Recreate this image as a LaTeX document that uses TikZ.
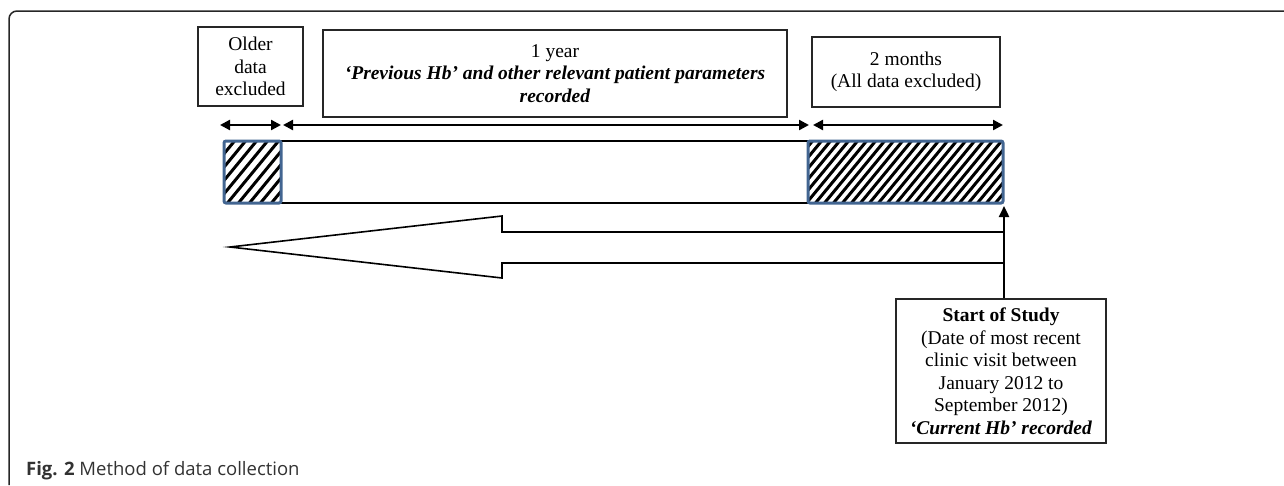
\documentclass[tikz,border=0pt]{standalone}
\usepackage{fontspec}
\setmainfont{Liberation Serif}
\newfontfamily\capfont{Open Sans}
\usetikzlibrary{arrows.meta}
\definecolor{hblue}{RGB}{66,101,145}
\definecolor{capgray}{RGB}{50,50,50}
\tikzset{
  txtbox/.style={draw=black!85, line width=1.3pt, align=center, inner sep=0pt,
    font=\fontsize{19.5}{22.5}\selectfont},
  span/.style={{Triangle[length=10pt,width=10pt]}-{Triangle[length=10pt,width=10pt]}, line width=2.3pt},
  hatchline/.style={line width=3pt, black},
  hframe/.style={draw=hblue, line width=3pt, rounded corners=2pt},
  bigarrow/.style={line width=1.6pt, black, line join=miter},
  uparrow/.style={-{Triangle[length=11pt,width=10pt]}, line width=2.3pt}
}
\begin{document}
\begin{tikzpicture}[x=1pt,y=-1pt]
\useasboundingbox (0,0) rectangle (1284,485);
% frame
\draw[line width=1.5pt, black!85, rounded corners=8pt] (9,485) -- (9,11) -- (1284,11);
% top boxes
\node[txtbox, minimum width=105pt, minimum height=79pt] (older) at (250.5,66.5)
  {Older\\data\\excluded};
\node[txtbox, minimum width=464pt, minimum height=87pt] (year) at (555,73.5)
  {1 year\\\textbf{\textit{`Previous Hb' and other relevant patient parameters}}\\\textbf{\textit{recorded}}};
\node[txtbox, minimum width=188pt, minimum height=70pt] (months) at (906,72)
  {2 months\\(All data excluded)};
% span arrow coordinates
\coordinate (a1l) at (220,125);
\coordinate (a1r) at (281,125);
\coordinate (a2l) at (283,125);
\coordinate (a2r) at (809,125);
\coordinate (a3l) at (813,125);
\coordinate (a3r) at (1003,125);
\draw[span] (a1l) -- (a1r);
\draw[span] (a2l) -- (a2r);
\draw[span] (a3l) -- (a3r);
% bar
\draw[line width=2pt] (281,141) -- (808,141);
\draw[line width=2pt] (281,203) -- (808,203);
\begin{scope}
  \clip (224,141) rectangle (281,203);
  \foreach \x in {170,181,...,300} \draw[hatchline] (\x,206) -- ++(56,-68);
\end{scope}
\begin{scope}
  \clip (808,141) rectangle (1003,203);
  \foreach \x in {750,759,...,1010} \draw[hatchline] (\x,206) -- ++(56,-68);
\end{scope}
\node[hframe, minimum width=57pt, minimum height=62pt, inner sep=0pt] (lhatch) at (252.5,172) {};
\node[hframe, minimum width=195pt, minimum height=62pt, inner sep=0pt] (rhatch) at (905.5,172) {};
% big arrow
\draw[bigarrow] (1004,232) -- (502,232) -- (502,216) -- (230,247) -- (502,278) -- (502,263) -- (1004,263);
% start of study
\node[txtbox, minimum width=210pt, minimum height=144pt] (start) at (1001,371)
  {\textbf{Start of Study}\\(Date of most recent\\clinic visit between\\January 2012 to\\September 2012)\\\textbf{\textit{`Current Hb' recorded}}};
\draw[uparrow] ([xshift=3pt]start.north) -- ([xshift=-0.5pt,yshift=-1.5pt]rhatch.south east);
% caption
\node[anchor=west, inner sep=0pt, text=capgray, font=\capfont\fontsize{18.5}{22}\selectfont] (cap) at (26,471)
  {\textbf{Fig. 2} Method of data collection};
\end{tikzpicture}
\end{document}
